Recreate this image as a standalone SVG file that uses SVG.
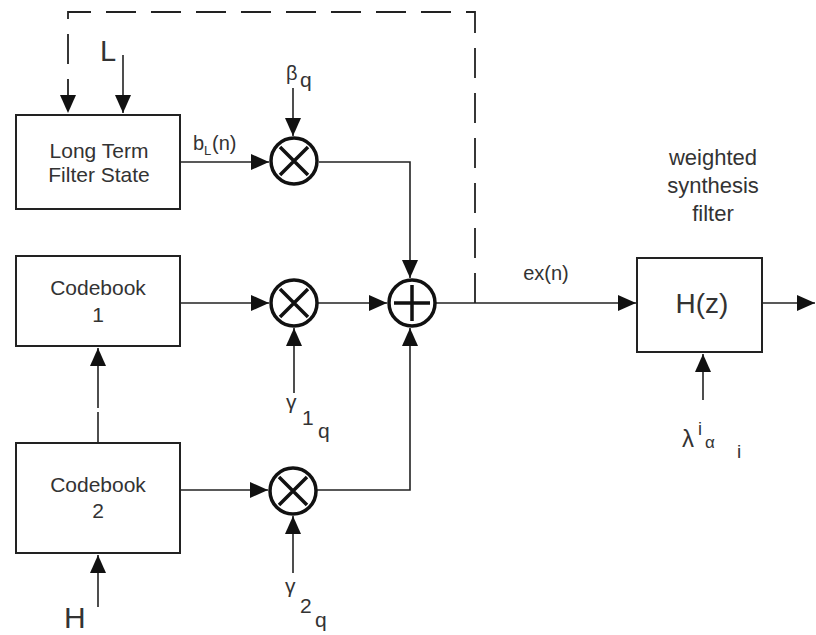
<svg xmlns="http://www.w3.org/2000/svg" width="816" height="635" viewBox="0 0 816 635">
<style>
text{font-family:"Liberation Sans",Arial,sans-serif;fill:#333}
.box{fill:none;stroke:#222;stroke-width:2}
.ln{fill:none;stroke:#222;stroke-width:1.6}
.dash{fill:none;stroke:#222;stroke-width:1.8;stroke-dasharray:30 15}
.op{fill:none;stroke:#111;stroke-width:3.5}
.lbl{font-size:21px;text-anchor:middle}
</style>
<defs>
<marker id="ah" markerUnits="userSpaceOnUse" markerWidth="18" markerHeight="18" refX="18" refY="9" orient="auto">
<path d="M0,1 L18,9 L0,17 z" fill="#111"/>
</marker>
</defs>
<rect width="816" height="635" fill="#fff"/>

<g id="connectors">
<path class="dash" d="M475,303 L475,12 L68,12 L68,113" marker-end="url(#ah)"/>
<path class="ln" d="M123,55 L123,113" marker-end="url(#ah)"/>
<path class="ln" d="M180,162 L269,162" marker-end="url(#ah)"/>
<path class="ln" d="M293,88 L293,136" marker-end="url(#ah)"/>
<path class="ln" d="M319,162 L410,162 L410,278" marker-end="url(#ah)"/>
<path class="ln" d="M180,303 L269,303" marker-end="url(#ah)"/>
<path class="ln" d="M318,303 L387,303" marker-end="url(#ah)"/>
<path class="ln" d="M294,393 L294,328" marker-end="url(#ah)"/>
<path class="ln" d="M98,442 L98,348" stroke-dasharray="30 4 70" marker-end="url(#ah)"/>
<path class="ln" d="M180,490 L268,490" marker-end="url(#ah)"/>
<path class="ln" d="M317,490 L410,490 L410,328" marker-end="url(#ah)"/>
<path class="ln" d="M293,573 L293,516" marker-end="url(#ah)"/>
<path class="ln" d="M98,607 L98,555" marker-end="url(#ah)"/>
<path class="ln" d="M436,303 L636,303" marker-end="url(#ah)"/>
<path class="ln" d="M762,303 L815,303" marker-end="url(#ah)"/>
<path class="ln" d="M703,400 L703,354" marker-end="url(#ah)"/>
</g>

<g id="ltfs">
<rect class="box" x="16" y="115" width="164" height="94"/>
<text class="lbl" x="99" y="158">Long Term</text>
<text class="lbl" x="99" y="182">Filter State</text>
</g>
<g id="cb1">
<rect class="box" x="16" y="256" width="164" height="90"/>
<text class="lbl" x="98" y="295">Codebook</text>
<text class="lbl" x="98" y="322">1</text>
</g>
<g id="cb2">
<rect class="box" x="16" y="443" width="164" height="110"/>
<text class="lbl" x="98" y="492">Codebook</text>
<text class="lbl" x="98" y="518">2</text>
</g>

<g id="mult-beta">
<circle class="op" cx="294" cy="161" r="23"/>
<path class="op" d="M280,147 L308,175 M308,147 L280,175"/>
</g>
<g id="mult-g1">
<circle class="op" cx="294" cy="303" r="23"/>
<path class="op" d="M280,289 L308,317 M308,289 L280,317"/>
</g>
<g id="mult-g2">
<circle class="op" cx="293" cy="491" r="23"/>
<path class="op" d="M279,477 L307,505 M307,477 L279,505"/>
</g>
<g id="adder">
<circle class="op" cx="412" cy="303" r="23"/>
<path class="op" d="M412,285 L412,321 M394,303 L430,303"/>
</g>

<g id="hz">
<rect class="box" x="637" y="258" width="125" height="94"/>
<text x="702" y="313" font-size="28" text-anchor="middle">H(z)</text>
</g>

<g id="labels">
<text x="100" y="61" font-size="29">L</text>
<text x="286" y="80" font-size="20">β</text>
<text x="300" y="87" font-size="21">q</text>
<text x="193" y="150" font-size="20">b</text>
<text x="204" y="155" font-size="13">L</text>
<text x="212" y="150" font-size="20">(n)</text>
<text x="286" y="409" font-size="21">γ</text>
<text x="302" y="425" font-size="21">1</text>
<text x="318" y="438" font-size="21">q</text>
<text x="285" y="593" font-size="21">γ</text>
<text x="300" y="613" font-size="21">2</text>
<text x="315" y="627" font-size="21">q</text>
<text x="64" y="628" font-size="30">H</text>
<text x="546" y="280" font-size="20" text-anchor="middle">ex(n)</text>
<text x="713" y="165" font-size="22" text-anchor="middle">weighted</text>
<text x="713" y="193" font-size="22" text-anchor="middle">synthesis</text>
<text x="713" y="221" font-size="22" text-anchor="middle">filter</text>
<text x="682" y="447" font-size="24">λ</text>
<text x="698" y="435" font-size="18">i</text>
<text x="705" y="448" font-size="17">α</text>
<text x="737" y="458" font-size="19">i</text>
</g>
</svg>
